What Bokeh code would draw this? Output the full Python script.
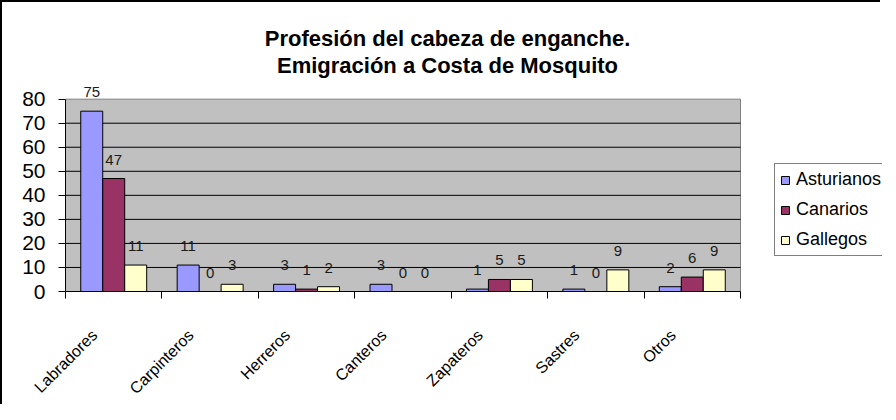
import math
from bokeh.plotting import figure
from bokeh.models import (Range1d, FixedTicker, Legend, LegendItem, Label,
                          LabelSet, ColumnDataSource)
from bokeh.embed import file_html
from bokeh.resources import INLINE
from bokeh.core.properties import value

categories = ["Labradores", "Carpinteros", "Herreros", "Canteros",
              "Zapateros", "Sastres", "Otros"]
series = ["Asturianos", "Canarios", "Gallegos"]
asturianos = [75, 11, 3, 3, 1, 1, 2]
canarios = [47, 0, 1, 0, 5, 0, 6]
gallegos = [11, 3, 2, 0, 5, 9, 9]
y_ticks = [0, 10, 20, 30, 40, 50, 60, 70, 80]
title_lines = ["Profesión del cabeza de enganche.",
               "Emigración a Costa de Mosquito"]
colors = ["#9999FF", "#993366", "#FFFFCC"]

FONT = "Liberation Sans"
BW = 0.228
n = len(categories)
y_top = y_ticks[-1]

# layout (pixels)
W, H = 880, 404
LEFT, BOTTOM = 63, 111
AREA_W, AREA_H = 675, 195          # grey plotting area
FRAME_W, FRAME_H = W - LEFT, H - BOTTOM

p = figure(width=W, height=H, output_backend="svg", toolbar_location=None,
           title=None,
           x_range=Range1d(0, n * FRAME_W / AREA_W),
           y_range=Range1d(0, y_top * FRAME_H / AREA_H),
           min_border_left=LEFT, min_border_right=0,
           min_border_top=0, min_border_bottom=BOTTOM,
           background_fill_color="white", border_fill_color="white",
           outline_line_color=None,
           styles={"border-left": "2px solid black",
                   "border-top": "2px solid black"})
p.xgrid.visible = False
p.ygrid.visible = False

# grey plot area and horizontal grid lines
p.quad(left=0, right=n, bottom=0, top=y_top, fill_color="#C0C0C0",
       line_color="#808080", line_width=1)
grid_y = y_ticks[1:-1]
p.segment(x0=[0] * len(grid_y), x1=[n] * len(grid_y), y0=grid_y, y1=grid_y,
          line_color="black", line_width=1)

items = []
for k, (name, vals) in enumerate(zip(series, [asturianos, canarios, gallegos])):
    xs = [i + 0.5 + (k - 1) * BW for i in range(n)]
    src = ColumnDataSource(dict(x=xs, top=vals, label=[str(v) for v in vals]))
    r = p.vbar(x="x", top="top", bottom=0, width=BW, source=src,
               fill_color=colors[k], line_color="black", line_width=1)
    items.append(LegendItem(label=name, renderers=[r]))
    labels = LabelSet(x="x", y="top", text="label", source=src,
                      text_align="center", text_baseline="alphabetic",
                      y_offset=14, text_font=value(FONT),
                      text_font_size=value("15px"), text_color="#1a1a1a")
    p.add_layout(labels)

# y axis
p.yaxis.ticker = FixedTicker(ticks=y_ticks, minor_ticks=[])
p.yaxis.bounds = (0, y_top)
p.yaxis.major_tick_out = 7
p.yaxis.major_tick_in = 0
p.yaxis.major_tick_line_color = "black"
p.yaxis.axis_line_color = "black"
p.yaxis.major_label_standoff = 13
p.yaxis.major_label_text_font = FONT
p.yaxis.major_label_text_font_size = "21px"
p.yaxis.major_label_text_color = "black"

# x axis: labels near category centres, ticks at category boundaries
label_pos = [i + 0.3 for i in range(n)]
p.xaxis.ticker = FixedTicker(ticks=label_pos, minor_ticks=list(range(n + 1)))
p.xaxis.bounds = (0, n)
p.xaxis.major_label_overrides = {x: c for x, c in zip(label_pos, categories)}
p.xaxis.major_label_orientation = math.pi / 4
p.xaxis.major_tick_line_color = None
p.xaxis.major_tick_out = 0
p.xaxis.major_tick_in = 0
p.xaxis.minor_tick_line_color = "black"
p.xaxis.minor_tick_out = 7
p.xaxis.minor_tick_in = 0
p.xaxis.axis_line_color = "black"
p.xaxis.major_label_standoff = 34
p.xaxis.major_label_text_font = FONT
p.xaxis.major_label_text_font_size = "16px"
p.xaxis.major_label_text_color = "black"

legend = Legend(items=items, location=(709, 35), orientation="vertical",
                label_text_font=FONT, label_text_font_size="18px",
                label_text_color="black",
                glyph_width=10, glyph_height=10, label_height=20,
                spacing=9, padding=5, margin=0, label_standoff=6,
                border_line_color="black", border_line_width=1,
                background_fill_color="white", background_fill_alpha=1)
p.add_layout(legend, "center")

for j, line in enumerate(title_lines):
    p.add_layout(Label(x=382, y=253 - j * 27, x_units="screen", y_units="screen",
                       text=line, text_align="center", text_baseline="alphabetic",
                       text_font=FONT, text_font_style="bold",
                       text_font_size="22px", text_color="black"))

open("out.html", "w").write(file_html(p, INLINE))
